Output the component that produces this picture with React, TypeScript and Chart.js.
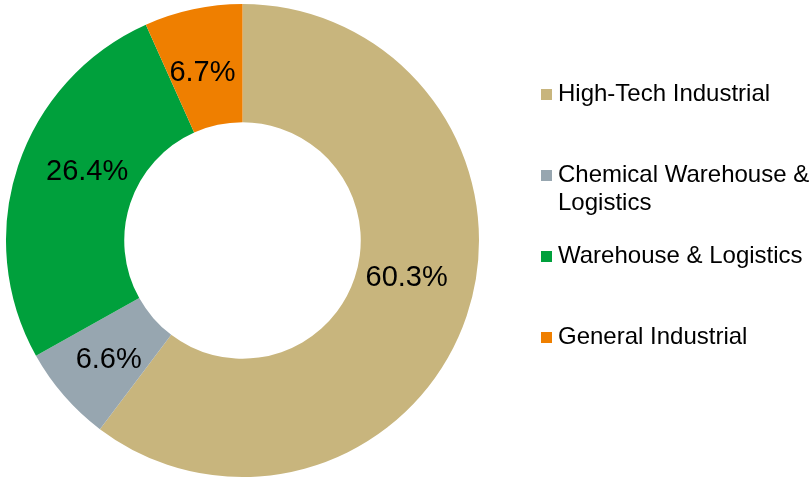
import React, { useEffect, useRef } from "react";
import { Chart, registerables } from "chart.js";

Chart.register(...registerables);

const categories = [
  "High-Tech Industrial",
  "Chemical Warehouse & Logistics",
  "Warehouse & Logistics",
  "General Industrial",
];
const shares = [60.3, 6.6, 26.4, 6.7];
const sliceLabels = ["60.3%", "6.6%", "26.4%", "6.7%"];
const sliceColors = ["#C8B57D", "#97A6B0", "#00A03C", "#EF7F00"];

const FONT = "'Liberation Sans', Arial, Helvetica, sans-serif";

const sliceLabelPlugin = {
  id: "sliceLabels",
  afterDatasetsDraw(chart: any) {
    const ctx = chart.ctx;
    const meta = chart.getDatasetMeta(0);
    const nudges: number[][] = chart.options.plugins.sliceLabels.nudges || [];
    ctx.save();
    ctx.font = `29px ${FONT}`;
    ctx.fillStyle = "#000000";
    ctx.textAlign = "center";
    ctx.textBaseline = "middle";
    meta.data.forEach((arc: any, i: number) => {
      const p = arc.getCenterPoint();
      const n = nudges[i] || [0, 0];
      ctx.fillText(sliceLabels[i], p.x + n[0], p.y + n[1]);
    });
    ctx.restore();
  },
};

const sideLegendPlugin = {
  id: "sideLegend",
  afterDraw(chart: any) {
    const ctx = chart.ctx;
    const opts = chart.options.plugins.sideLegend;
    ctx.save();
    ctx.font = `24px ${FONT}`;
    ctx.textAlign = "left";
    ctx.textBaseline = "alphabetic";
    let baseline = opts.firstBaseline;
    categories.forEach((name, i) => {
      const words = name.split(" ");
      const lines: string[] = [];
      let cur = "";
      words.forEach((w) => {
        const test = cur ? cur + " " + w : w;
        if (ctx.measureText(test).width > opts.maxWidth && cur) {
          lines.push(cur);
          cur = w;
        } else {
          cur = test;
        }
      });
      if (cur) lines.push(cur);
      ctx.fillStyle = sliceColors[i];
      ctx.fillRect(opts.boxX, baseline - 12, opts.boxSize, opts.boxSize);
      ctx.fillStyle = "#000000";
      lines.forEach((ln, j) => {
        ctx.fillText(ln, opts.textX, baseline + j * opts.lineHeight);
      });
      baseline += opts.itemStep;
    });
    ctx.restore();
  },
};

export default function App() {
  const canvasRef = useRef<HTMLCanvasElement | null>(null);

  useEffect(() => {
    if (!canvasRef.current) return;
    const chart = new Chart(canvasRef.current, {
      type: "doughnut",
      data: {
        labels: categories,
        datasets: [
          {
            data: shares,
            backgroundColor: sliceColors,
            borderWidth: 0,
            hoverOffset: 0,
            offset: 0,
          },
        ],
      },
      options: {
        animation: false,
        responsive: false,
        cutout: "50%",
        rotation: 0,
        layout: { padding: { left: 6, top: 4, right: 331, bottom: 2 } },
        plugins: {
          legend: { display: false },
          tooltip: { enabled: false },
          sliceLabels: {
            nudges: [[-4, -19], [0, 3], [13, -13], [-3, 6]],
          },
          sideLegend: {
            firstBaseline: 101,
            itemStep: 81,
            lineHeight: 28,
            boxX: 541,
            boxSize: 11,
            textX: 558,
            maxWidth: 255,
          },
        } as any,
      },
      plugins: [sliceLabelPlugin, sideLegendPlugin],
    });
    return () => chart.destroy();
  }, []);

  return (
    <div style={{ position: "fixed", left: 0, top: 0, width: 810, height: 479, background: "#ffffff" }}>
      <canvas ref={canvasRef} width={810} height={479} style={{ width: 810, height: 479, display: "block" }} />
    </div>
  );
}
